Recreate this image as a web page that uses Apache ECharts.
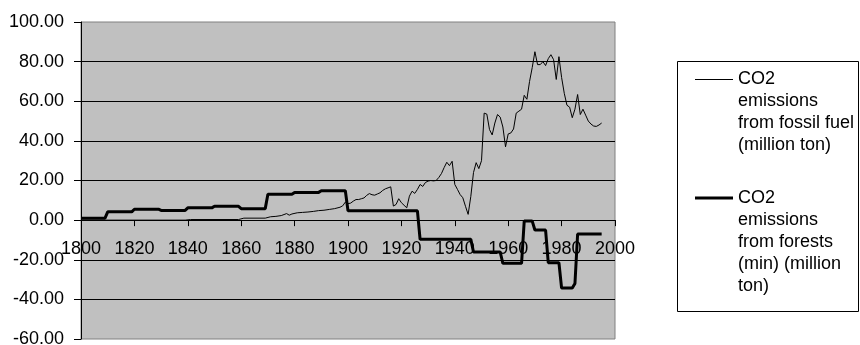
<!DOCTYPE html>
<html><head><meta charset="utf-8">
<script src="https://cdn.jsdelivr.net/npm/echarts@6/dist/echarts.min.js"></script>
<style>html,body{margin:0;padding:0;background:#fff}#c{width:860px;height:345px}</style>
</head><body><div id="c"></div>
<script>
// ---- data ----
const fossilYears = [1800,1839,1841,1859,1861,1869,1871,1873,1875,1877,1878,1879,1881,1883,1885,1887,1889,1891,1893,1895,1897,1898,1899,
  1900,1901,1902,1903,1904,1905,1906,1907,1908,1909,1910,1911,1912,1913,1914,1915,1916,1917,1918,1919,
  1920,1921,1922,1923,1924,1925,1926,1927,1928,1929,1930,1931,1932,1933,1934,1935,1936,1937,1938,1939,
  1940,1941,1942,1943,1944,1945,1946,1947,1948,1949,1950,1951,1952,1953,1954,1955,1956,1957,1958,1959,
  1960,1961,1962,1963,1964,1965,1966,1967,1968,1969,1970,1971,1972,1973,1974,1975,1976,1977,1978,1979,
  1980,1981,1982,1983,1984,1985,1986,1987,1988,1989,1990,1991,1992,1993,1994,1995];
const fossilValues = [0,0,0.3,0.3,1.0,1.0,1.7,1.9,2.3,3.3,2.5,3.1,3.7,3.9,4.1,4.4,4.8,5.0,5.4,5.8,6.5,7.2,9.1,
  8.3,8.6,9.6,10.4,10.4,10.8,11.2,12.5,13.4,12.8,12.6,13.2,13.8,15.0,15.8,16.3,16.8,7.1,7.9,10.8,
  8.8,7.5,6.2,12.1,14.6,13.5,15.5,18.0,17.0,19.0,19.7,20.0,19.8,20.0,21.5,23.5,26.5,29.2,27.5,29.7,
  18.0,15.5,12.9,11.3,7.0,2.9,12.0,24.0,29.0,26.0,30.0,54.0,53.5,45.7,43.0,49.0,53.3,52.0,47.0,37.0,
  43.5,44.0,46.0,54.0,55.0,56.0,63.0,61.0,70.0,77.0,85.0,78.5,78.5,80.0,78.0,81.5,83.5,81.0,71.0,82.5,
  72.0,64.0,58.0,57.0,51.7,56.0,63.4,53.3,56.0,53.0,50.0,48.5,47.5,47.3,48.0,49.0];

const forestYears = [1800,1809,1810,1819,1820,1829,1830,1839,1840,1849,1850,1859,1860,1869,1870,1879,1880,1889,1890,1899,
  1900,1926,1927,1946,1947,1957,1958,1965,1966,1969,1970,1974,1975,1979,1980,1984,1985,1986,1995];
const forestValues = [1.0,1.0,4.2,4.2,5.5,5.5,4.9,4.9,6.2,6.2,7.0,7.0,5.8,5.8,13.1,13.1,14.0,14.0,14.8,14.8,
  4.7,4.7,-9.7,-9.7,-16.1,-16.1,-21.8,-21.8,-0.5,-0.5,-5.0,-5.0,-21.5,-21.5,-34.3,-34.3,-32.0,-7.0,-7.0];

const seriesNames = ['CO2 emissions from fossil fuel (million ton)', 'CO2 emissions from forests (min) (million ton)'];
const legendLines1 = ['CO2', 'emissions', 'from fossil fuel', '(million ton)'];
const legendLines2 = ['CO2', 'emissions', 'from forests', '(min) (million', 'ton)'];

const xMin = 1800, xMax = 2000, xStep = 20;
const yMin = -60, yMax = 100, yStep = 20;

// ---- chart ----
const FONT = "'Liberation Sans', Arial, sans-serif";
const GRID = {left: 81, right: 245, top: 22, bottom: 6};
const H = 345;
const plotH = H - GRID.top - GRID.bottom;
// the year axis crosses the value axis at 0: lift it from the grid bottom to the zero line
const xAxisOffset = -plotH * (0 - yMin) / (yMax - yMin);

const chart = echarts.init(document.getElementById('c'), null, {renderer: 'canvas'});

function pad(lines) {
  // blank lines above so the first line sits level with the legend line sample
  const blanks = new Array(lines.length - 1).fill('');
  return blanks.concat(lines).join('\n');
}
const LH = 22;

const legendBase = {
  orient: 'vertical', left: 695, padding: 0, itemWidth: 38, icon: 'rect',
  selectedMode: false,
  textStyle: {fontFamily: FONT, fontSize: 18, color: '#000', lineHeight: LH},
  itemStyle: {color: '#000', borderWidth: 0}
};

chart.setOption({
  animation: false,
  backgroundColor: '#fff',
  grid: Object.assign({containLabel: false, outerBoundsMode: 'none',
    show: true, backgroundColor: '#C0C0C0', borderColor: '#808080', borderWidth: 1}, GRID),
  graphic: [{
    type: 'rect', z: -1, silent: true,
    shape: {x: 677.5, y: 61.5, width: 181, height: 250},
    style: {fill: '#fff', stroke: '#000', lineWidth: 1}
  }],
  legend: [
    Object.assign({}, legendBase, {
      top: 79 - (2 * legendLines1.length - 1) * LH / 2 + 0.5, itemHeight: 1,
      data: [seriesNames[0]], formatter: () => pad(legendLines1)
    }),
    Object.assign({}, legendBase, {
      top: 199.5 - (2 * legendLines2.length - 1) * LH / 2 - 1.5, itemHeight: 3,
      data: [seriesNames[1]], formatter: () => pad(legendLines2)
    })
  ],
  xAxis: {
    type: 'value', min: xMin, max: xMax, interval: xStep,
    position: 'bottom', offset: xAxisOffset,
    axisLine: {show: true, onZero: false, lineStyle: {color: '#000', width: 1}},
    axisTick: {show: true, length: 6, lineStyle: {color: '#000'}},
    axisLabel: {show: true, hideOverlap: false, showMinLabel: true, showMaxLabel: true,
      fontFamily: FONT, fontSize: 18, color: '#000', margin: 20, formatter: v => String(v)},
    splitLine: {show: false}
  },
  yAxis: {
    type: 'value', min: yMin, max: yMax, interval: yStep,
    axisLine: {show: true, onZero: false, lineStyle: {color: '#000', width: 1}},
    axisTick: {show: true, length: 7, lineStyle: {color: '#000'}},
    axisLabel: {fontFamily: FONT, fontSize: 18, color: '#000', margin: 17, formatter: v => v.toFixed(2)},
    splitLine: {show: true, showMinLine: false, showMaxLine: false, lineStyle: {color: '#000', width: 1}}
  },
  series: [
    {
      name: seriesNames[0], type: 'line', symbol: 'none', silent: true,
      lineStyle: {color: '#000', width: 1}, itemStyle: {color: '#000'},
      data: fossilYears.map((y, i) => [y, fossilValues[i]])
    },
    {
      name: seriesNames[1], type: 'line', symbol: 'none', silent: true,
      lineStyle: {color: '#000', width: 3}, itemStyle: {color: '#000'},
      data: forestYears.map((y, i) => [y, forestValues[i]])
    }
  ]
});
</script>
</body></html>
